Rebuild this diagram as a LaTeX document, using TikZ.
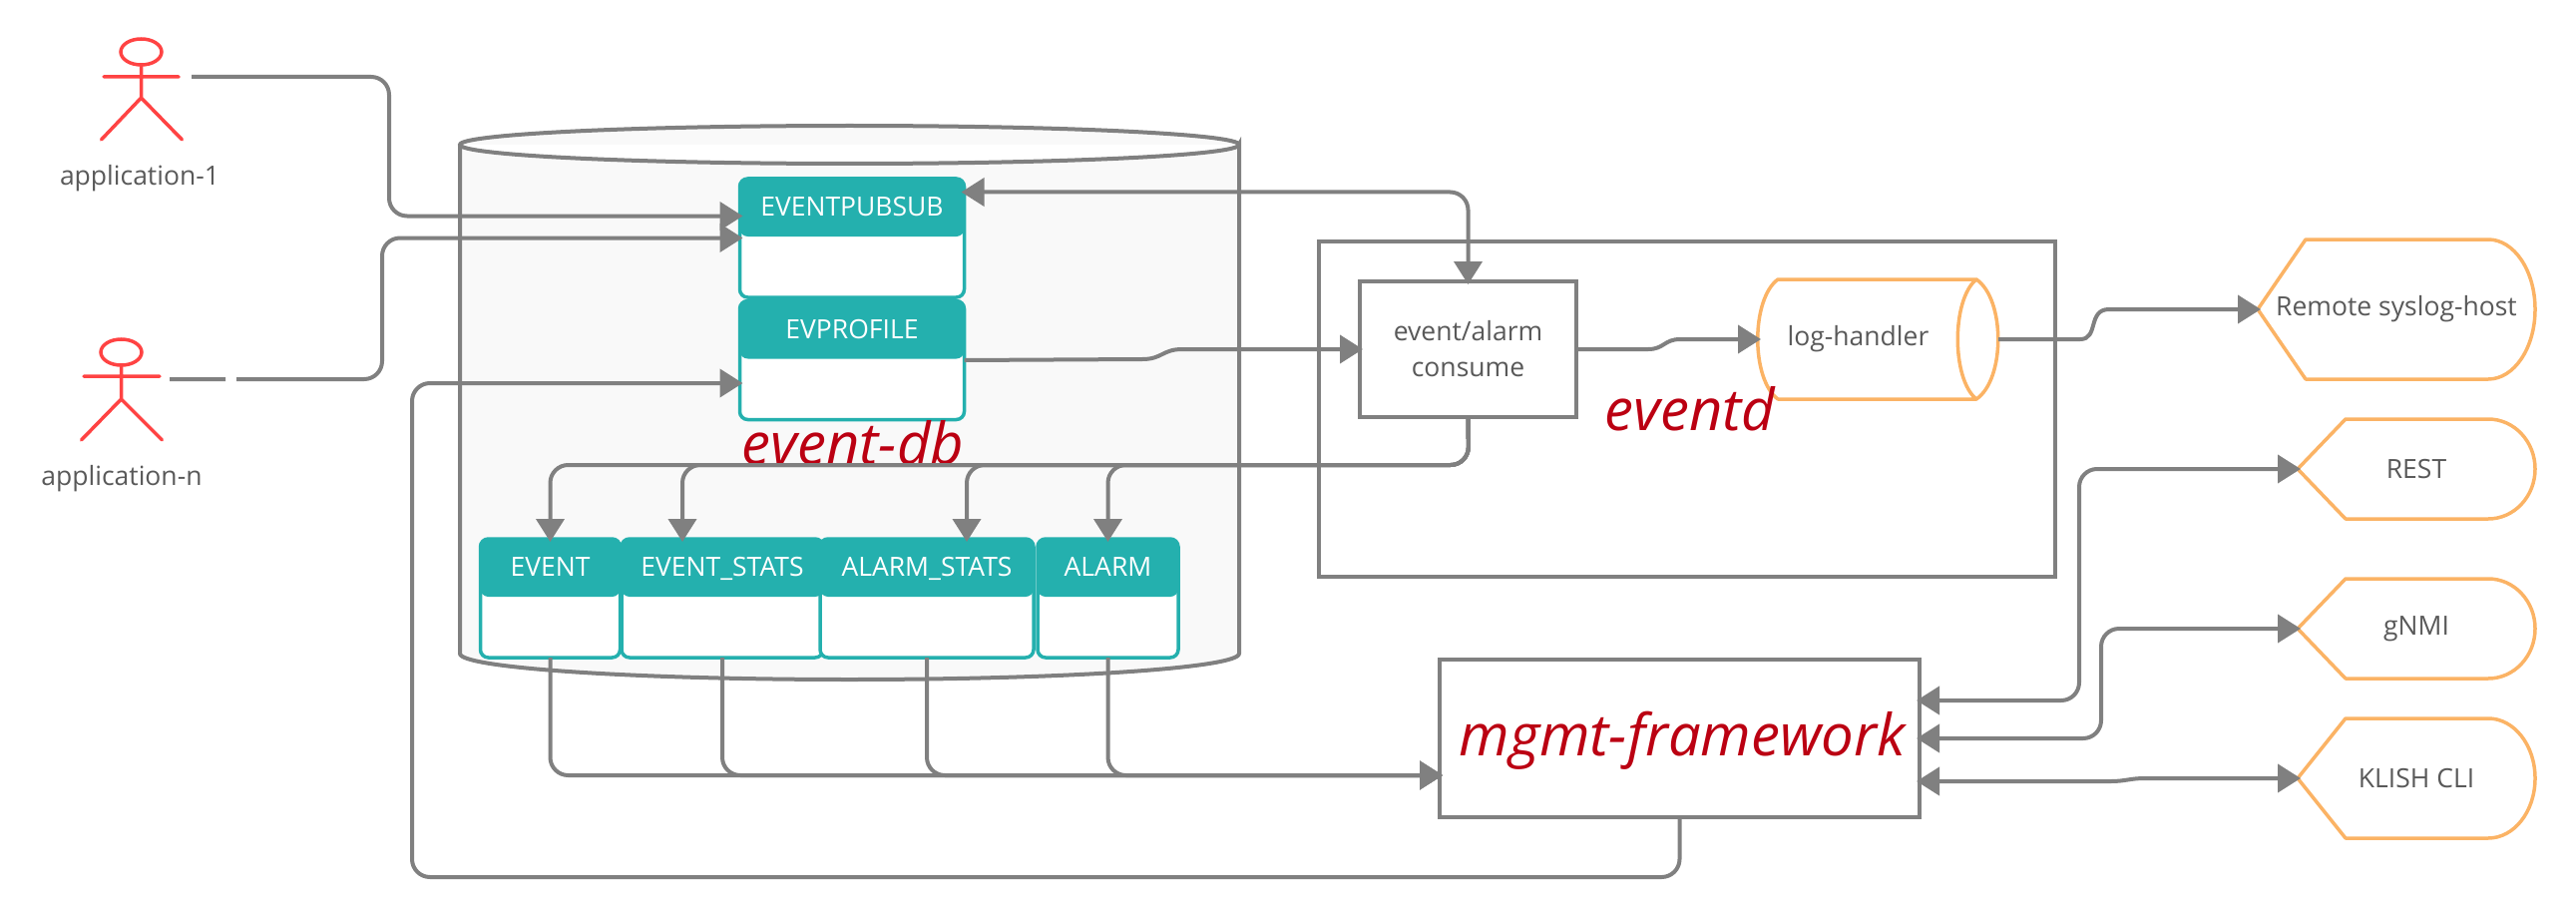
\documentclass[tikz,border=0pt]{standalone}
\usepackage{fontspec}
\setmainfont{Open Sans}
\usepackage{xcolor}
\usetikzlibrary{arrows.meta,positioning,calc,shapes.geometric}
\definecolor{lineGray}{HTML}{808080}
\definecolor{textGray}{HTML}{595959}
\definecolor{dbTeal}{HTML}{24B0AE}
\definecolor{hostOrange}{HTML}{FBB365}
\definecolor{actorRed}{HTML}{FF4343}
\definecolor{nameRed}{HTML}{BB0012}
\definecolor{dbFill}{HTML}{F9F9F9}
% outline of the outer interfaces: pointed on the left, rounded on the right
\newcommand{\hostoutline}[2]{%
  \draw[hostline] (#1.west) -- ([xshift=48pt]#1.north west)
    -- ([xshift=-47pt]#1.north east) arc[start angle=-90, end angle=90, x radius=47, y radius=#2]
    -- ([xshift=48pt]#1.south west) -- cycle;}

\begin{document}
\begin{tikzpicture}[x=1pt, y=-1pt, >={Triangle[length=23pt,width=28pt]},
  node distance=0pt,
  every node/.style={outer sep=0pt, text=textGray, font=\fontsize{26.5}{36}\selectfont},
  dbtable/.style={draw=dbTeal, line width=3.5pt, rounded corners=8pt, fill=white,
    inner xsep=0pt, inner ysep=0pt, text=white, text height=37.5pt, text depth=81.5pt,
    path picture={\fill[dbTeal] (path picture bounding box.north west) rectangle
      ([yshift=-58pt]path picture bounding box.north east);}},
  frame/.style={draw=lineGray, line width=4pt, fill=none, inner sep=0pt, align=center},
  hostnode/.style={inner sep=0pt},
  hostline/.style={draw=hostOrange, line width=3.5pt, line join=round},
  nametext/.style={text=nameRed, font=\fontsize{58}{60}\selectfont\itshape},
  actor/.style={draw=actorRed, line width=3.5pt, line cap=round},
  arr/.style={->, line width=4pt, draw=lineGray, rounded corners=18pt, shorten >=-3pt},
  arrcurve/.style={arr, rounded corners=0pt}]
\useasboundingbox (0,0) rectangle (2582,920);

% event-db
\draw[draw=lineGray, fill=dbFill, line width=4pt] (461,145) -- (461,655)
  arc[start angle=180, end angle=0, x radius=390.5, y radius=26] -- (1242,145)
  arc[start angle=0, end angle=180, x radius=390.5, y radius=19]
  arc[start angle=180, end angle=360, x radius=390.5, y radius=19];
\node[dbtable, minimum width=225pt] (pubsub) at (854,238.5) {EVENTPUBSUB};
\node[dbtable, minimum width=225pt, below=3.5pt of pubsub] (evprofile) {EVPROFILE};
\node[nametext] (eventdb) at (855,444) {event-db};
\node[dbtable, minimum width=140pt] (eventtb) at (551.5,599.5) {EVENT};
\node[dbtable, minimum width=202pt, right=1.5pt of eventtb] (eventstats) {EVENT\_STATS};
\node[dbtable, minimum width=214pt, right=-3pt of eventstats] (alarmstats) {ALARM\_STATS};
\node[dbtable, minimum width=141pt, right=4pt of alarmstats] (alarmtb) {ALARM};

% eventd
\node[frame, minimum width=738pt, minimum height=336pt] (eventd) at (1691,410) {};
\node[frame, minimum width=217pt, minimum height=136pt, fill=white] (consume) at (1471.5,350) {event/alarm\\consume};
\node[hostnode, minimum width=241pt, minimum height=120pt] (loghandler) at (1882.5,340) {log-handler\hspace*{40pt}};
\draw[hostline] ([xshift=20pt]loghandler.north west) -- ([xshift=-22pt]loghandler.north east)
  .. controls ([xshift=7pt,yshift=-20pt]loghandler.north east) and ([xshift=7pt,yshift=20pt]loghandler.south east) .. ([xshift=-22pt]loghandler.south east)
  -- ([xshift=20pt]loghandler.south west)
  .. controls ([xshift=-7pt,yshift=20pt]loghandler.south west) and ([xshift=-7pt,yshift=-20pt]loghandler.north west) .. cycle
  ([xshift=-22pt]loghandler.north east)
  .. controls ([xshift=-47pt,yshift=-20pt]loghandler.north east) and ([xshift=-47pt,yshift=20pt]loghandler.south east) .. ([xshift=-22pt]loghandler.south east);
\node[nametext] (eventdname) at (1694,410) {eventd};

% mgmt-framework
\node[frame, minimum width=481pt, minimum height=158pt, fill=white] (mgmt) at (1683.5,740) {};
\node[nametext] (mgmtname) at (1686,742) {mgmt-framework};

% outer interfaces
\node[hostnode, minimum width=278pt, minimum height=140pt] (syslog) at (2402,310) {Remote syslog-host};
\node[hostnode, minimum width=238pt, minimum height=100pt] (rest) at (2422,470) {REST};
\node[hostnode, minimum width=238pt, minimum height=100pt] (gnmi) at (2422,630) {gNMI};
\node[hostnode, minimum width=238pt, minimum height=120pt] (klish) at (2422,780) {KLISH CLI};
\hostoutline{syslog}{70}
\hostoutline{rest}{50}
\hostoutline{gnmi}{50}
\hostoutline{klish}{60}

% applications
\node[actor, draw=none, minimum width=0pt] (app1) at (140,179) {application-1};
\node[actor, draw, ellipse, inner sep=0pt, minimum width=41pt, minimum height=26pt] (head1) at (141.5,52) {};
\draw[actor] (head1.south) -- ++(0,33) coordinate (hip1) -- ++(-40,42) (hip1) -- ++(41,42)
  (104,77) -- (179,77);
\coordinate (app1out) at (192,77);
\node[actor, draw=none] (appn) at (122,480) {application-n};
\node[actor, draw, ellipse, inner sep=0pt, minimum width=41pt, minimum height=26pt] (headn) at (121.5,353) {};
\draw[actor] (headn.south) -- ++(0,34) coordinate (hipn) -- ++(-40,41) (hipn) -- ++(41,41)
  (84,377) -- (160,377);
\coordinate (appnout) at (170,380);

\draw[arr] (app1out) -- (390,77) |- ([yshift=22pt]pubsub.west);
\draw[arr, dash pattern=on 56pt off 11pt on 2000pt off 0pt] (appnout) -- (383,380) |- (pubsub.west);
\draw[arr, <->, shorten <=-3pt] ([yshift=46pt]pubsub.east) -| (consume.north);
\draw[arrcurve] (evprofile.east) -- (1145,360) .. controls (1165,360) and (1165,350) .. (1185,350) -- (consume.west);
\draw[arrcurve] (consume.east) -- (1652,350) .. controls (1668,350) and (1668,340) .. (1684,340) -- (loghandler.west);
\draw[arrcurve] (loghandler.east) -- (2085,340) .. controls (2104,340) and (2092,310) .. (2114,310) -- (syslog.west);
\draw[arr] (consume.south) -- (1472,466) -| (eventtb.north);
\draw[arr] (consume.south) -- (1472,466) -| ([xshift=-40pt]eventstats.north);
\draw[arr] (consume.south) -- (1472,466) -| ([xshift=40pt]alarmstats.north);
\draw[arr] (consume.south) -- (1472,466) -| (alarmtb.north);
\draw[arr] (eventtb.south) |- ([yshift=-37pt]mgmt.west);
\draw[arr] (eventstats.south) |- ([yshift=-37pt]mgmt.west);
\draw[arr] (alarmstats.south) |- ([yshift=-37pt]mgmt.west);
\draw[arr] (alarmtb.south) |- ([yshift=-37pt]mgmt.west);
\draw[arr] (mgmt.south) |- (413,879) |- ([yshift=-23pt]evprofile.west);
\draw[arr, <->, shorten <=-3pt] ([yshift=38pt]mgmt.east) -| (2084,470) -- (rest.west);
\draw[arr, <->, shorten <=-3pt] (mgmt.east) -| (2106,630) -- (gnmi.west);
\draw[arrcurve, <->, shorten <=-3pt] ([yshift=-43pt]mgmt.east) -- (2116,783) .. controls (2130,783) and (2135,780) .. (2150,780) -- (klish.west);
\end{tikzpicture}
\end{document}
